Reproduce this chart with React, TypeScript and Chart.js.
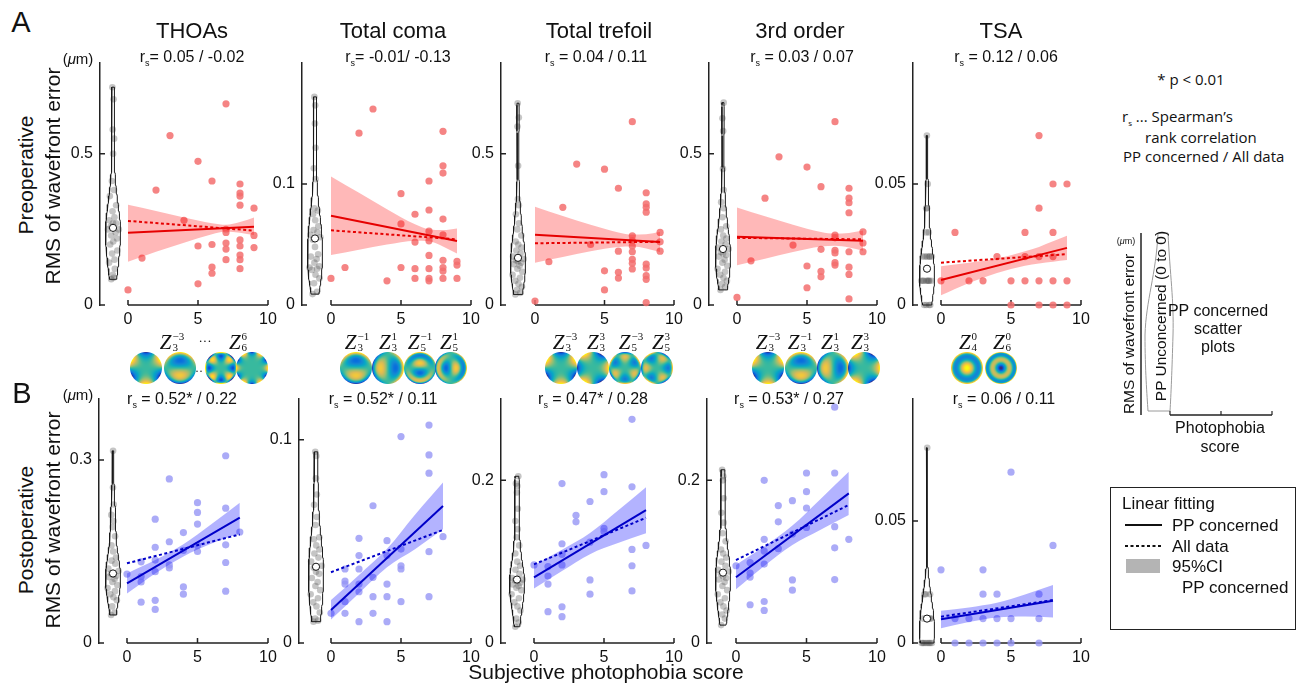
import React, { useEffect, useRef } from "react";
import { Chart, registerables } from "chart.js";

Chart.register(...registerables);

const SANS = '"Liberation Sans", Arial, Helvetica, sans-serif';
const SERIF = '"Liberation Serif", "Times New Roman", serif';
const HUMAN = '"Open Sans", "Noto Sans", sans-serif';
Chart.defaults.font.family = SANS;
Chart.defaults.color = "#111";

// ================= DATA =================
// x = subjective photophobia score, y = RMS (µm)
// Row A: preoperative, PP concerned patients
const A1_X = [0, 1, 2, 3, 4, 5, 5, 5, 6, 6, 6, 6, 7, 7, 7, 7, 7, 7, 8, 8, 8, 8, 8, 8, 8, 8, 8, 9, 9, 9];
const A1_Y = [0.05, 0.155, 0.38, 0.56, 0.28, 0.475, 0.195, 0.07, 0.41, 0.2, 0.125, 0.105, 0.665, 0.25, 0.24, 0.205, 0.185, 0.15, 0.4, 0.37, 0.36, 0.33, 0.215, 0.195, 0.165, 0.15, 0.12, 0.32, 0.23, 0.19];
const A2_X = [0, 1, 2, 3, 4, 5, 5, 5, 6, 6, 6, 6, 7, 7, 7, 7, 7, 7, 7, 7, 8, 8, 8, 8, 8, 8, 8, 8, 8, 9, 9, 9];
const A2_Y = [0.022, 0.031, 0.142, 0.162, 0.02, 0.092, 0.067, 0.031, 0.075, 0.052, 0.03, 0.022, 0.1025, 0.0785, 0.061, 0.053, 0.041, 0.03, 0.022, 0.02, 0.1435, 0.115, 0.109, 0.071, 0.058, 0.037, 0.031, 0.028, 0.022, 0.036, 0.033, 0.022];
const A3_X = [0, 1, 2, 3, 4, 5, 5, 5, 6, 6, 6, 6, 7, 7, 7, 7, 7, 7, 7, 7, 8, 8, 8, 8, 8, 8, 8, 8, 8, 9, 9, 9];
const A3_Y = [0.013, 0.143, 0.323, 0.466, 0.2, 0.449, 0.113, 0.05, 0.386, 0.178, 0.108, 0.089, 0.606, 0.229, 0.213, 0.195, 0.176, 0.151, 0.138, 0.119, 0.371, 0.334, 0.323, 0.307, 0.135, 0.122, 0.097, 0.085, 0.008, 0.24, 0.209, 0.178];
const A4_X = [0, 1, 2, 3, 4, 5, 5, 5, 6, 6, 6, 6, 7, 7, 7, 7, 7, 7, 7, 8, 8, 8, 8, 8, 8, 8, 8, 9, 9, 9];
const A4_Y = [0.025, 0.146, 0.353, 0.49, 0.198, 0.456, 0.129, 0.057, 0.391, 0.184, 0.111, 0.093, 0.606, 0.231, 0.222, 0.181, 0.172, 0.14, 0.132, 0.386, 0.353, 0.338, 0.305, 0.176, 0.125, 0.101, 0.02, 0.242, 0.205, 0.176];
const A5_X = [0, 1, 2, 3, 4, 5, 5, 6, 6, 6, 7, 7, 7, 7, 7, 8, 8, 8, 8, 8, 9, 9, 9];
const A5_Y = [0.01, 0.03, 0.01, 0.01, 0.02, 0.01, 0, 0.03, 0.02, 0.01, 0.07, 0.04, 0.02, 0.01, 0, 0.05, 0.03, 0.02, 0.01, 0, 0.05, 0.01, 0];

// Row B: postoperative, PP concerned patients
const B1_X = [0, 1, 1, 1, 1, 2, 2, 2, 2, 2, 2, 3, 3, 3, 3, 4, 4, 4, 4, 5, 5, 5, 5, 5, 7, 7, 7, 7, 7, 8];
const B1_Y = [0.113, 0.133, 0.109, 0.1, 0.067, 0.203, 0.157, 0.136, 0.117, 0.07, 0.055, 0.269, 0.166, 0.128, 0.123, 0.181, 0.152, 0.092, 0.08, 0.23, 0.214, 0.195, 0.16, 0.15, 0.307, 0.221, 0.161, 0.132, 0.085, 0.182];
const B2_X = [0, 1, 1, 1, 1, 1, 2, 2, 2, 2, 2, 2, 3, 3, 3, 3, 4, 4, 4, 4, 4, 5, 5, 5, 5, 5, 7, 7, 7, 7, 7, 8];
const B2_Y = [0.0146, 0.0364, 0.0305, 0.029, 0.0203, 0.0146, 0.0515, 0.043, 0.0364, 0.029, 0.0252, 0.0105, 0.0675, 0.0323, 0.0228, 0.0146, 0.0503, 0.043, 0.029, 0.0228, 0.0105, 0.1015, 0.0462, 0.038, 0.0364, 0.0203, 0.1072, 0.0925, 0.0835, 0.0449, 0.0228, 0.0523];
const B3_X = [0, 1, 1, 1, 1, 2, 2, 2, 2, 2, 2, 3, 3, 4, 4, 4, 4, 5, 5, 5, 5, 7, 7, 7, 7, 7, 8];
const B3_Y = [0.096, 0.094, 0.0824, 0.0725, 0.0385, 0.196, 0.122, 0.109, 0.096, 0.0446, 0.0324, 0.157, 0.149, 0.174, 0.124, 0.0775, 0.06, 0.207, 0.186, 0.141, 0.137, 0.275, 0.192, 0.115, 0.095, 0.064, 0.12];
const B4_X = [0, 1, 1, 1, 1, 2, 2, 2, 2, 2, 2, 3, 3, 3, 4, 4, 4, 4, 5, 5, 5, 5, 7, 7, 7, 7, 7, 8];
const B4_Y = [0.095, 0.099, 0.086, 0.081, 0.047, 0.2, 0.1275, 0.113, 0.097, 0.051, 0.04, 0.169, 0.149, 0.116, 0.175, 0.134, 0.0775, 0.065, 0.209, 0.186, 0.166, 0.142, 0.29, 0.209, 0.143, 0.117, 0.078, 0.1275];
const B5_X = [0, 1, 1, 2, 2, 3, 3, 3, 3, 4, 4, 4, 5, 5, 5, 7, 7, 7, 8];
const B5_Y = [0.03, 0.01, 0, 0.01, 0, 0.03, 0.02, 0.01, 0, 0.02, 0.01, 0, 0.07, 0.01, 0, 0.02, 0.01, 0, 0.04];

// PP unconcerned (score 0 to 0) values – shown as violins
const A1_UNC = [0.72, 0.68, 0.58, 0.55, 0.5, 0.41, 0.38, 0.36, 0.33, 0.31, 0.29, 0.28, 0.27, 0.27, 0.26, 0.25, 0.25, 0.24, 0.23, 0.22, 0.21, 0.2, 0.18, 0.17, 0.15, 0.14, 0.12, 0.1, 0.09, 0.085];
const A2_UNC = [0.009, 0.011, 0.018, 0.022, 0.025, 0.029, 0.03, 0.031, 0.032, 0.035, 0.038, 0.04, 0.042, 0.048, 0.054, 0.056, 0.058, 0.06, 0.062, 0.065, 0.07, 0.075, 0.078, 0.08, 0.104, 0.113, 0.13, 0.15, 0.165, 0.172];
const A3_UNC = [0.035, 0.04, 0.05, 0.06, 0.07, 0.08, 0.09, 0.1, 0.11, 0.12, 0.13, 0.135, 0.14, 0.145, 0.148, 0.152, 0.16, 0.17, 0.18, 0.19, 0.2, 0.21, 0.23, 0.25, 0.27, 0.3, 0.33, 0.35, 0.46, 0.59, 0.62, 0.667];
const A4_UNC = [0.05, 0.06, 0.07, 0.08, 0.09, 0.1, 0.11, 0.12, 0.13, 0.14, 0.15, 0.16, 0.165, 0.17, 0.175, 0.185, 0.19, 0.2, 0.21, 0.22, 0.23, 0.25, 0.26, 0.29, 0.32, 0.34, 0.38, 0.45, 0.575, 0.617, 0.669];
const A5_UNC = [0, 0, 0, 0, 0.01, 0.01, 0.01, 0.01, 0.01, 0.01, 0.01, 0.01, 0.02, 0.02, 0.02, 0.02, 0.02, 0.02, 0.03, 0.03, 0.04, 0.04, 0.05, 0.07];
const B1_UNC = [0.046, 0.05, 0.06, 0.07, 0.075, 0.08, 0.085, 0.09, 0.095, 0.1, 0.105, 0.108, 0.11, 0.112, 0.114, 0.118, 0.122, 0.13, 0.135, 0.14, 0.15, 0.16, 0.175, 0.19, 0.2, 0.21, 0.227, 0.255, 0.315];
const B2_UNC = [0.0105, 0.011, 0.012, 0.015, 0.018, 0.02, 0.022, 0.024, 0.026, 0.028, 0.03, 0.032, 0.034, 0.035, 0.037, 0.038, 0.04, 0.042, 0.044, 0.046, 0.048, 0.051, 0.052, 0.058, 0.062, 0.068, 0.073, 0.081, 0.092, 0.094];
const B3_UNC = [0.02, 0.025, 0.03, 0.04, 0.045, 0.05, 0.055, 0.06, 0.065, 0.068, 0.07, 0.072, 0.074, 0.076, 0.077, 0.078, 0.08, 0.085, 0.09, 0.095, 0.1, 0.11, 0.12, 0.13, 0.14, 0.15, 0.165, 0.185, 0.193, 0.196, 0.205];
const B4_UNC = [0.022, 0.03, 0.035, 0.04, 0.045, 0.05, 0.055, 0.06, 0.065, 0.07, 0.075, 0.078, 0.08, 0.082, 0.085, 0.088, 0.09, 0.095, 0.1, 0.105, 0.11, 0.115, 0.125, 0.135, 0.148, 0.16, 0.178, 0.2, 0.205, 0.213];
const B5_UNC = [0, 0, 0, 0, 0, 0, 0, 0, 0.01, 0.01, 0.01, 0.01, 0.01, 0.01, 0.02, 0.02, 0.02, 0.08];

// Linear fits (values at the fit ends) : PP concerned (solid) / All data (dotted)
const FIT_X_PRE = [0, 9];
const FIT_X_POST = [0, 8];
const A1_FIT = [0.239, 0.259]; const A1_FIT_ALL = [0.278, 0.246];
const A2_FIT = [0.0738, 0.0529]; const A2_FIT_ALL = [0.0617, 0.0543];
const A3_FIT = [0.232, 0.208]; const A3_FIT_ALL = [0.204, 0.209];
const A4_FIT = [0.226, 0.2125]; const A4_FIT_ALL = [0.222, 0.217];
const A5_FIT = [0.0103, 0.0236]; const A5_FIT_ALL = [0.0175, 0.021];
const B1_FIT = [0.0978, 0.2054]; const B1_FIT_ALL = [0.1307, 0.178];
const B2_FIT = [0.0162, 0.0674]; const B2_FIT_ALL = [0.0348, 0.0556];
const B3_FIT = [0.0808, 0.1635]; const B3_FIT_ALL = [0.0967, 0.154];
const B4_FIT = [0.0808, 0.184]; const B4_FIT_ALL = [0.102, 0.1697];
const B5_FIT = [0.0097, 0.0173]; const B5_FIT_ALL = [0.0108, 0.0176];

// 95% CI band of the PP concerned fit
const BAND_X_PRE = [0, 2, 4, 6, 7, 8, 9];
const BAND_X_POST = [0, 2, 4, 6, 8];
const A1_LO = [0.143, 0.176, 0.206, 0.234, 0.243, 0.239, 0.231]; const A1_HI = [0.331, 0.311, 0.289, 0.27, 0.265, 0.274, 0.289];
const A2_LO = [0.0413, 0.0457, 0.0499, 0.0531, 0.0526, 0.0484, 0.0425]; const A2_HI = [0.1063, 0.0927, 0.0791, 0.0667, 0.0626, 0.062, 0.0633];
const A3_LO = [0.14, 0.159, 0.178, 0.192, 0.193, 0.187, 0.175]; const A3_HI = [0.325, 0.294, 0.265, 0.24, 0.233, 0.234, 0.241];
const A4_LO = [0.131, 0.153, 0.175, 0.193, 0.1955, 0.19, 0.179]; const A4_HI = [0.322, 0.293, 0.265, 0.241, 0.2355, 0.238, 0.246];
const A5_LO = [0.004, 0.0091, 0.0132, 0.0162, 0.0172, 0.0179, 0.0186]; const A5_HI = [0.016, 0.0175, 0.0192, 0.0222, 0.024, 0.0263, 0.0286];
const B1_LO = [0.081, 0.114, 0.142, 0.163, 0.18]; const B1_HI = [0.114, 0.136, 0.162, 0.195, 0.23];
const B2_LO = [0.0115, 0.0245, 0.0373, 0.0461, 0.0559]; const B2_HI = [0.0211, 0.0335, 0.0463, 0.0631, 0.0789];
const B3_LO = [0.067, 0.0885, 0.1092, 0.1228, 0.1349]; const B3_HI = [0.0955, 0.1145, 0.1352, 0.1628, 0.1914];
const B4_LO = [0.066, 0.0946, 0.1204, 0.1392, 0.1574]; const B4_HI = [0.096, 0.1186, 0.1444, 0.1772, 0.2106];
const B5_LO = [0.006, 0.0086, 0.0105, 0.0109, 0.0105]; const B5_HI = [0.0132, 0.0146, 0.0165, 0.0199, 0.0238];

// Axes
const X_TICKS = [0, 5, 10];
const Y_MAX_PRE = [0.8, 0.2, 0.8, 0.8, 0.1];
const Y_TICK_PRE = [0.5, 0.1, 0.5, 0.5, 0.05];
const Y_MAX_POST = [0.4, 0.12, 0.3, 0.3, 0.1];
const Y_TICK_POST = [0.3, 0.1, 0.2, 0.2, 0.05];

// Text
const COLUMN_TITLES = ["THOAs", "Total coma", "Total trefoil", "3rd order", "TSA"];
const RS_PRE = ["= 0.05 / -0.02", "= -0.01/ -0.13", " = 0.04 / 0.11", " = 0.03 / 0.07", " = 0.12 / 0.06"];
const RS_POST = [" = 0.52* / 0.22", " = 0.52* / 0.11", " = 0.47* / 0.28", " = 0.53* / 0.27", " = 0.06 / 0.11"];

// Zernike modes [n, m] illustrated above each column
const ZERN_MODES = [
  [[3, -3], [3, -1], [6, 4], [6, 6]],
  [[3, -1], [3, 1], [5, -1], [5, 1]],
  [[3, -3], [3, 3], [5, -3], [5, 3]],
  [[3, -3], [3, -1], [3, 1], [3, 3]],
  [[4, 0], [6, 0]],
];
const ZERN_LABELS = [
  [[3, -3], null, [6, 6]],
  [[3, -1], [3, 1], [5, -1], [5, 1]],
  [[3, -3], [3, 3], [5, -3], [5, 3]],
  [[3, -3], [3, -1], [3, 1], [3, 3]],
  [[4, 0], [6, 0]],
];

// ================= LAYOUT (pixels) =================
const LAYOUT = [
  { axisX: 100, x0: 128, x10: 268, top: 63, bottom: 305, vc: 113 },
  { axisX: 302, x0: 331, x10: 471, top: 63, bottom: 305, vc: 315 },
  { axisX: 501, x0: 535, x10: 674, top: 63, bottom: 305, vc: 518 },
  { axisX: 709, x0: 737, x10: 877, top: 63, bottom: 305, vc: 723 },
  { axisX: 913, x0: 941, x10: 1081, top: 63, bottom: 305, vc: 927 },
  { axisX: 99, x0: 127, x10: 268, top: 399, bottom: 643, vc: 113 },
  { axisX: 299, x0: 331, x10: 471, top: 399, bottom: 643, vc: 316 },
  { axisX: 501, x0: 534, x10: 674, top: 399, bottom: 643, vc: 517 },
  { axisX: 707, x0: 736, x10: 877, top: 399, bottom: 643, vc: 723 },
  { axisX: 913, x0: 941, x10: 1081, top: 399, bottom: 643, vc: 927 },
];
const TITLE_X = [192, 393, 599, 800, 1001];
const RS_PRE_X = [192, 398, 596, 802, 1006];
const RS_POST_X = [182, 383, 593, 789, 1004];
const ZERN_CX = [[146, 180, 221, 252], [356, 388, 420, 451], [561, 593, 625, 657], [768, 801, 833, 864], [967, 1001]];
const ZERN_LX = [[172, 205, 238], [357, 388, 420, 449], [565, 596, 631, 661], [768, 800, 830, 860], [968, 1002]];

const PAD_L = 50, PAD_R = 22, PAD_T = 22, PAD_B = 30;
const VIOLIN_HALF_PX = 7.5;
const JITTER = [-0.62, 0.48, -0.18, 0.72, 0.08, -0.44, 0.3, -0.78, 0.6, -0.08, 0.22, -0.56, 0.42, 0.0, -0.3, 0.78, -0.68, 0.36, -0.24, 0.54, 0.04, -0.4, 0.66, -0.14, 0.26, -0.72, 0.38, -0.04, 0.16, -0.5, 0.7, -0.34];

const RED = { pt: "rgba(243,110,110,0.85)", line: "#e60000", band: "rgba(255,20,20,0.3)" };
const BLUE = { pt: "rgba(150,150,245,0.8)", line: "#0000c8", band: "rgba(20,20,255,0.32)" };

const PANELS = [
  { x: A1_X, y: A1_Y, unc: A1_UNC, fit: A1_FIT, fitAll: A1_FIT_ALL, lo: A1_LO, hi: A1_HI },
  { x: A2_X, y: A2_Y, unc: A2_UNC, fit: A2_FIT, fitAll: A2_FIT_ALL, lo: A2_LO, hi: A2_HI },
  { x: A3_X, y: A3_Y, unc: A3_UNC, fit: A3_FIT, fitAll: A3_FIT_ALL, lo: A3_LO, hi: A3_HI },
  { x: A4_X, y: A4_Y, unc: A4_UNC, fit: A4_FIT, fitAll: A4_FIT_ALL, lo: A4_LO, hi: A4_HI },
  { x: A5_X, y: A5_Y, unc: A5_UNC, fit: A5_FIT, fitAll: A5_FIT_ALL, lo: A5_LO, hi: A5_HI },
  { x: B1_X, y: B1_Y, unc: B1_UNC, fit: B1_FIT, fitAll: B1_FIT_ALL, lo: B1_LO, hi: B1_HI },
  { x: B2_X, y: B2_Y, unc: B2_UNC, fit: B2_FIT, fitAll: B2_FIT_ALL, lo: B2_LO, hi: B2_HI },
  { x: B3_X, y: B3_Y, unc: B3_UNC, fit: B3_FIT, fitAll: B3_FIT_ALL, lo: B3_LO, hi: B3_HI },
  { x: B4_X, y: B4_Y, unc: B4_UNC, fit: B4_FIT, fitAll: B4_FIT_ALL, lo: B4_LO, hi: B4_HI },
  { x: B5_X, y: B5_Y, unc: B5_UNC, fit: B5_FIT, fitAll: B5_FIT_ALL, lo: B5_LO, hi: B5_HI },
];

// ================= helpers =================
function median(a: number[]) {
  const s = [...a].sort((p, q) => p - q);
  const n = s.length;
  return n % 2 ? s[(n - 1) / 2] : (s[n / 2 - 1] + s[n / 2]) / 2;
}

function violin(vals: number[], center: number, halfMax: number) {
  const n = vals.length;
  const mean = vals.reduce((a, b) => a + b, 0) / n;
  const sd = Math.sqrt(vals.reduce((a, b) => a + (b - mean) ** 2, 0) / (n - 1));
  const h = 0.8 * sd * Math.pow(n, -0.2);
  const dens = (y: number) => vals.reduce((s, v) => s + Math.exp(-0.5 * ((y - v) / h) ** 2), 0);
  const lo = Math.min(...vals), hi = Math.max(...vals);
  const steps = 90;
  const ys: number[] = [];
  for (let i = 0; i <= steps; i++) ys.push(lo + ((hi - lo) * i) / steps);
  const ds = ys.map(dens);
  const maxD = Math.max(...ds);
  const half = (y: number) => (halfMax * dens(y)) / maxD;
  const right = ys.map((y, i) => ({ x: center + (halfMax * ds[i]) / maxD, y }));
  const left = ys.map((y, i) => ({ x: center - (halfMax * ds[i]) / maxD, y })).reverse();
  const outline = [...right, ...left, right[0]];
  return { outline, half };
}

const axisPlugin = {
  id: "panelAxes",
  beforeDatasetsDraw(chart: any) {
    const { ctx, chartArea, scales } = chart;
    const xs = scales.x, ys = scales.y;
    const yb = ys.getPixelForValue(0);
    ctx.save();
    ctx.strokeStyle = "#222";
    ctx.lineWidth = 1.5;
    ctx.beginPath();
    ctx.moveTo(xs.getPixelForValue(X_TICKS[0]), yb);
    ctx.lineTo(xs.getPixelForValue(X_TICKS[X_TICKS.length - 1]), yb);
    for (const t of X_TICKS) {
      const px = xs.getPixelForValue(t);
      ctx.moveTo(px, yb);
      ctx.lineTo(px, yb - 5);
    }
    for (const t of ys.ticks) {
      const py = ys.getPixelForValue(t.value);
      ctx.moveTo(chartArea.left, py);
      ctx.lineTo(chartArea.left + 5, py);
    }
    ctx.stroke();
    ctx.restore();
  },
};

function Panel({ idx }: { idx: number }) {
  const ref = useRef<HTMLCanvasElement | null>(null);
  const lay = LAYOUT[idx];
  const spec = PANELS[idx];
  const post = idx >= 5;
  const col = idx % 5;
  const W = lay.x10 - lay.axisX + PAD_L + PAD_R;
  const H = lay.bottom - lay.top + PAD_T + PAD_B;

  useEffect(() => {
    const canvas = ref.current;
    if (!canvas) return;
    const pal = post ? BLUE : RED;
    const yMax = post ? Y_MAX_POST[col] : Y_MAX_PRE[col];
    const yTick = post ? Y_TICK_POST[col] : Y_TICK_PRE[col];
    const fitX = post ? FIT_X_POST : FIT_X_PRE;
    const bandX = post ? BAND_X_POST : BAND_X_PRE;
    const unitPx = (lay.x10 - lay.x0) / X_TICKS[X_TICKS.length - 1];
    const xMin = -(lay.x0 - lay.axisX) / unitPx;
    const vc = (lay.vc - lay.x0) / unitPx;
    const v = violin(spec.unc, vc, VIOLIN_HALF_PX / unitPx);

    const pts = spec.x.map((x, i) => ({ x, y: spec.y[i] }));
    const uncPts = spec.unc.map((u, i) => ({ x: vc + JITTER[i % JITTER.length] * v.half(u), y: u }));
    const fit = fitX.map((x, i) => ({ x, y: spec.fit[i] }));
    const fitAll = fitX.map((x, i) => ({ x, y: spec.fitAll[i] }));
    const lo = bandX.map((x, i) => ({ x, y: spec.lo[i] }));
    const hi = bandX.map((x, i) => ({ x, y: spec.hi[i] }));

    const chart = new Chart(canvas, {
      type: "scatter",
      data: {
        datasets: [
          { type: "line", data: fit, borderColor: pal.line, borderWidth: 2, pointRadius: 0, order: 0 },
          { type: "line", data: fitAll, borderColor: pal.line, borderWidth: 2, borderDash: [3, 2.5], pointRadius: 0, order: 0 },
          { type: "scatter", data: [{ x: vc, y: median(spec.unc) }], pointRadius: 3.6, backgroundColor: "#ffffff", borderColor: "#111", borderWidth: 1, order: -1, clip: false },
          { type: "line", data: lo, borderWidth: 0, pointRadius: 0, fill: false, cubicInterpolationMode: "monotone", order: 1 },
          { type: "line", data: hi, borderWidth: 0, pointRadius: 0, fill: "-1", backgroundColor: pal.band, cubicInterpolationMode: "monotone", order: 1 },
          { type: "scatter", data: pts, pointRadius: 3.6, backgroundColor: pal.pt, borderWidth: 0, order: 2, clip: false },
          { type: "line", data: v.outline, borderColor: "#1a1a1a", borderWidth: 1, pointRadius: 0, fill: false, order: 3, clip: false },
          { type: "scatter", data: uncPts, pointRadius: 3.3, backgroundColor: "rgba(85,85,85,0.34)", borderWidth: 0, order: 4, clip: false },
        ] as any,
      },
      options: {
        animation: false,
        responsive: false,
        devicePixelRatio: 1,
        events: [],
        layout: { padding: { top: PAD_T, right: PAD_R, left: 0, bottom: 0 } },
        plugins: { legend: { display: false }, tooltip: { enabled: false }, title: { display: false } },
        scales: {
          x: {
            type: "linear",
            min: xMin,
            max: X_TICKS[X_TICKS.length - 1],
            grid: { display: false, drawTicks: false },
            border: { display: false },
            afterBuildTicks: (ax: any) => { ax.ticks = X_TICKS.map((value) => ({ value })); },
            afterFit: (ax: any) => { ax.height = PAD_B; },
            ticks: { padding: 5, color: "#111", font: { size: 16 }, maxRotation: 0, autoSkip: false, callback: (val: any) => String(val) },
          },
          y: {
            type: "linear",
            min: 0,
            max: yMax,
            grid: { display: false, drawTicks: false },
            border: { display: true, color: "#222", width: 1.5 },
            afterBuildTicks: (ax: any) => { ax.ticks = [0, yTick].map((value) => ({ value })); },
            afterFit: (ax: any) => { ax.width = PAD_L; },
            ticks: { padding: 7, color: "#111", font: { size: 16 }, autoSkip: false, callback: (val: any) => String(val) },
          },
        },
      } as any,
      plugins: [axisPlugin],
    });
    const ca = chart.chartArea;
    canvas.style.left = `${lay.axisX - ca.left}px`;
    canvas.style.top = `${lay.top - ca.top}px`;
    return () => chart.destroy();
  }, []);

  return (
    <canvas
      ref={ref}
      width={W}
      height={H}
      style={{ position: "absolute", left: lay.axisX - PAD_L, top: lay.top - PAD_T, width: W, height: H }}
    />
  );
}

// ---------- Zernike discs ----------
const PARULA = [
  [53, 42, 135], [3, 99, 225], [20, 133, 212], [6, 167, 198], [56, 185, 158],
  [146, 191, 115], [217, 186, 86], [252, 206, 46], [249, 251, 14],
];
function parula(t: number) {
  const u = Math.max(0, Math.min(1, t)) * (PARULA.length - 1);
  const i = Math.min(PARULA.length - 2, Math.floor(u));
  const f = u - i;
  return PARULA[i].map((c, k) => c + (PARULA[i + 1][k] - c) * f);
}
function fact(n: number) { let r = 1; for (let i = 2; i <= n; i++) r *= i; return r; }
function radial(n: number, m: number, r: number) {
  const am = Math.abs(m);
  let s = 0;
  for (let k = 0; k <= (n - am) / 2; k++) {
    s += ((k % 2 ? -1 : 1) * fact(n - k)) / (fact(k) * fact((n + am) / 2 - k) * fact((n - am) / 2 - k)) * Math.pow(r, n - 2 * k);
  }
  return s;
}
function zern(n: number, m: number, r: number, t: number) {
  const R = radial(n, m, r);
  return m >= 0 ? R * Math.cos(m * t) : R * Math.sin(-m * t);
}

function ZDisc({ n, m, cx, cy, d }: any) {
  const ref = useRef<HTMLCanvasElement | null>(null);
  useEffect(() => {
    const c = ref.current;
    if (!c) return;
    const ctx = c.getContext("2d");
    if (!ctx) return;
    const img = ctx.createImageData(d, d);
    const R = d / 2;
    const vals: number[] = [];
    let mx = 1e-9;
    for (let j = 0; j < d; j++) for (let i = 0; i < d; i++) {
      const x = (i + 0.5 - R) / R, y = -(j + 0.5 - R) / R;
      const r = Math.hypot(x, y);
      const z = zern(n, m, Math.min(r, 1), Math.atan2(y, x));
      vals.push(z);
      if (r <= 1) mx = Math.max(mx, Math.abs(z));
    }
    for (let j = 0; j < d; j++) for (let i = 0; i < d; i++) {
      const k = j * d + i;
      const x = (i + 0.5 - R) / R, y = -(j + 0.5 - R) / R;
      const r = Math.hypot(x, y);
      const a = Math.max(0, Math.min(1, (1 - r) * R + 0.5));
      const col = parula(0.5 + 0.5 * vals[k] / mx);
      img.data[k * 4] = col[0];
      img.data[k * 4 + 1] = col[1];
      img.data[k * 4 + 2] = col[2];
      img.data[k * 4 + 3] = Math.round(a * 255);
    }
    ctx.putImageData(img, 0, 0);
  }, []);
  return <canvas ref={ref} width={d} height={d} style={{ position: "absolute", left: cx - d / 2, top: cy - d / 2 }} />;
}

// ---------- text helpers ----------
function T({ x, y, size = 16, rot = 0, anchor = "center", family = SANS, children, style = {} }: any) {
  const tx = anchor === "center" ? "-50%" : anchor === "left" ? "0" : "-100%";
  return (
    <div
      style={{
        position: "absolute", left: x, top: y, transform: `translate(${tx},-50%)${rot ? ` rotate(${rot}deg)` : ""}`,
        whiteSpace: "nowrap", fontSize: size, fontFamily: family, lineHeight: 1, color: "#111", ...style,
      }}
    >
      {children}
    </div>
  );
}
function Sub({ children, size = 9 }: any) {
  return <span style={{ fontSize: size, position: "relative", top: 4 }}>{children}</span>;
}
function ZLabel({ n, m, x, y }: any) {
  const sup = m < 0 ? `\u2212${-m}` : `${m}`;
  return (
    <div style={{ position: "absolute", left: x, top: y, transform: "translate(-50%,-50%)", display: "flex", alignItems: "center", fontFamily: SERIF, color: "#111", lineHeight: 1 }}>
      <span style={{ fontStyle: "italic", fontSize: 21 }}>Z</span>
      <span style={{ display: "inline-flex", flexDirection: "column", fontSize: 11, lineHeight: "11px", marginLeft: 1 }}>
        <span>{sup}</span>
        <span>{n}</span>
      </span>
    </div>
  );
}

export default function App() {
  return (
    <div style={{ position: "absolute", left: 0, top: 0, width: 1309, height: 690, background: "#fff", overflow: "hidden", fontFamily: SANS }}>
      {PANELS.map((_, i) => <Panel key={i} idx={i} />)}

      {/* Zernike illustrations */}
      {ZERN_MODES.map((g, gi) => g.map((md, k) => <ZDisc key={`z${gi}-${k}`} n={md[0]} m={md[1]} cx={ZERN_CX[gi][k]} cy={368} d={32} />))}
      {ZERN_LABELS.map((g, gi) => g.map((md, k) =>
        md ? <ZLabel key={`l${gi}-${k}`} n={md[0]} m={md[1]} x={ZERN_LX[gi][k]} y={342} /> : <T key={`l${gi}-${k}`} x={ZERN_LX[gi][k]} y={340} size={13} family={SERIF}>···</T>
      ))}
      <T x={199} y={371} size={12} family={SERIF}>··</T>

      {/* panel letters */}
      <T x={21} y={22} size={29}>A</T>
      <T x={22} y={393} size={29}>B</T>
      <T x={78} y={58} size={15}>(<i>μ</i>m)</T>
      <T x={78} y={394} size={15}>(<i>μ</i>m)</T>

      {COLUMN_TITLES.map((t, i) => <T key={`t${i}`} x={TITLE_X[i]} y={31} size={22}>{t}</T>)}
      {RS_PRE.map((t, i) => <T key={`ra${i}`} x={RS_PRE_X[i]} y={57} size={16}>r<Sub>s</Sub>{t}</T>)}
      {RS_POST.map((t, i) => <T key={`rb${i}`} x={RS_POST_X[i]} y={399} size={16}>r<Sub>s</Sub>{t}</T>)}

      {/* y titles */}
      <T x={25} y={175} size={21} rot={-90}>Preoperative</T>
      <T x={52} y={176} size={21} rot={-90}>RMS of wavefront error</T>
      <T x={25} y={530} size={21} rot={-90}>Postoperative</T>
      <T x={52} y={520} size={21} rot={-90}>RMS of wavefront error</T>
      <T x={606} y={671} size={21}>Subjective photophobia score</T>

      {/* notes */}
      <T x={1191} y={79} size={15} family={HUMAN}>* p &lt; 0.01</T>
      <T x={1122} y={116} size={15} family={HUMAN} anchor="left">r<Sub size={8}>s</Sub> ... Spearman’s</T>
      <T x={1145} y={137} size={15} family={HUMAN} anchor="left">rank correlation</T>
      <T x={1123} y={156} size={15} family={HUMAN} anchor="left">PP concerned / All data</T>

      {/* schematic + legend graphics */}
      <svg width={1309} height={690} style={{ position: "absolute", left: 0, top: 0, pointerEvents: "none" }}>
        <line x1={1141} y1={233} x2={1141} y2={415} stroke="#222" strokeWidth={1.5} />
        <path d="M1158,233 L1168,233 C1170,275 1174,300 1173,335 C1172,370 1171,395 1170,411 L1148,411 C1147,395 1145,370 1145,335 C1146,300 1156,275 1158,233 Z" fill="none" stroke="#9a9a9a" strokeWidth={1} />
        <line x1={1170} y1={415} x2={1272} y2={415} stroke="#222" strokeWidth={1.5} />
        <line x1={1170} y1={415} x2={1170} y2={411} stroke="#222" strokeWidth={1.2} />
        <line x1={1221} y1={415} x2={1221} y2={411} stroke="#222" strokeWidth={1.2} />
        <line x1={1272} y1={415} x2={1272} y2={411} stroke="#222" strokeWidth={1.2} />
        <rect x={1110.5} y={487.5} width={185} height={142} fill="none" stroke="#222" strokeWidth={1} />
        <line x1={1125} y1={525} x2={1162} y2={525} stroke="#111" strokeWidth={2.2} />
        <line x1={1125} y1={546} x2={1162} y2={546} stroke="#111" strokeWidth={2.2} strokeDasharray="3 2.5" />
        <rect x={1126} y={559} width={34} height={14} fill="#b4b4b4" />
      </svg>
      <T x={1126} y={241} size={9}>(<i>μ</i>m)</T>
      <T x={1129} y={334} size={15.5} rot={-90}>RMS of wavefront error</T>
      <T x={1161} y={316} size={15.5} rot={-90}>PP Unconcerned (0 to 0)</T>
      <T x={1218} y={311} size={16}>PP concerned</T>
      <T x={1218} y={329} size={16}>scatter</T>
      <T x={1218} y={347} size={16}>plots</T>
      <T x={1220} y={428} size={16}>Photophobia</T>
      <T x={1220} y={447} size={16}>score</T>

      <T x={1122} y={503} size={17} anchor="left">Linear fitting</T>
      <T x={1172} y={525} size={17} anchor="left">PP concerned</T>
      <T x={1172} y={546} size={17} anchor="left">All data</T>
      <T x={1172} y={566} size={17} anchor="left">95%CI</T>
      <T x={1182} y={587} size={17} anchor="left">PP concerned</T>
    </div>
  );
}
